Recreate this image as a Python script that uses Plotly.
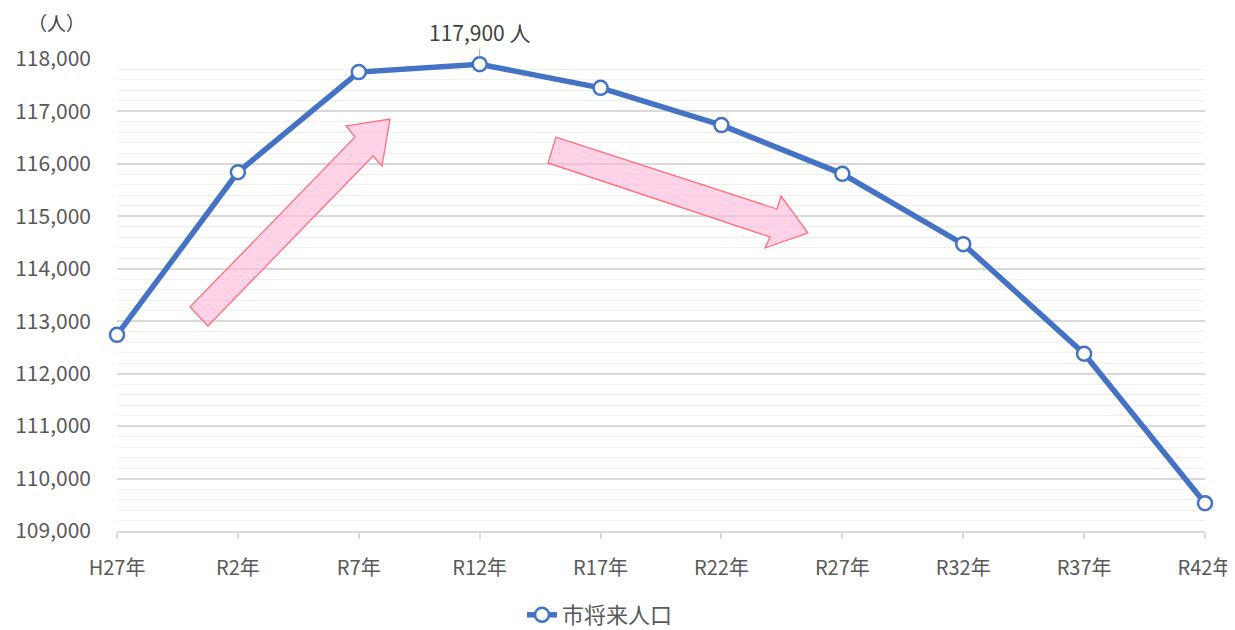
import plotly.graph_objects as go

categories = ["H27年", "R2年", "R7年", "R12年", "R17年", "R22年", "R27年", "R32年", "R37年", "R42年"]
population = [112740, 115840, 117750, 117900, 117450, 116740, 115810, 114470, 112380, 109530]
y_ticks = [109000, 110000, 111000, 112000, 113000, 114000, 115000, 116000, 117000, 118000]
series_name = "市将来人口"
peak_label = "117,900 人"
unit_label = "（人）"

# page has an 8px body margin; figure coordinates = page coordinates - 8
OFF = 8
W, H = 1235 - OFF, 630 - OFF
L, R, T, B = 117 - OFF, 30, 59 - OFF, 99
PW, PH = W - L - R, H - T - B

FONT = "Noto Sans CJK JP, Noto Sans, sans-serif"


def to_paper(pts):
    return [((x - OFF - L) / PW, (H - B - (y - OFF)) / PH) for x, y in pts]


def path(pts):
    pp = to_paper(pts)
    return "M " + " L ".join(f"{x:.4f},{y:.4f}" for x, y in pp) + " Z"


up_arrow = [(190, 307), (355, 137), (346, 126), (390, 119), (382, 166), (373, 156), (208, 326)]
down_arrow = [(556, 137), (777, 209), (781, 196), (808, 233), (765, 248), (770, 237), (548, 163)]

fig = go.Figure()
fig.add_trace(go.Scatter(
    x=categories, y=population, mode="lines+markers", name=series_name,
    line=dict(color="#4472C4", width=5.5),
    marker=dict(symbol="circle", size=14, color="white", line=dict(color="#4472C4", width=2.5)),
    cliponaxis=False,
))

for arr in (up_arrow, down_arrow):
    fig.add_shape(type="path", path=path(arr), xref="paper", yref="paper",
                  fillcolor="rgba(255,182,215,0.6)", line=dict(color="#FF6F7F", width=1.3),
                  layer="above")

fig.add_annotation(x=categories[3], y=population[3], text=peak_label, showarrow=True,
                   arrowhead=0, arrowwidth=1, arrowcolor="#a6a6a6", ax=0, ay=-32, standoff=7,
                   font=dict(family=FONT, size=21, color="#404040"))
ux, uy = to_paper([(56, 22)])[0]
fig.add_annotation(x=ux, y=uy, xref="paper", yref="paper", xanchor="center", yanchor="middle",
                   text=unit_label, showarrow=False,
                   font=dict(family=FONT, size=19, color="#404040"))

lx, ly = to_paper([(600, 615)])[0]
fig.update_layout(
    width=W, height=H, margin=dict(l=L, r=R, t=T, b=B, autoexpand=False),
    paper_bgcolor="white", plot_bgcolor="white",
    font=dict(family=FONT, size=18, color="#595959"),
    showlegend=True,
    legend=dict(orientation="h", x=lx, xanchor="center",
                y=ly, yanchor="middle",
                font=dict(family=FONT, size=22, color="#595959")),
    xaxis=dict(type="category", range=[0, len(categories) - 1], showgrid=False,
               automargin=False,
               showline=True, linecolor="#d9d9d9", linewidth=1.5,
               ticks="outside", ticklen=6, tickcolor="#d9d9d9", tickwidth=1.5,
               tickfont=dict(size=20, color="#595959"), ticklabelstandoff=12),
    yaxis=dict(range=[109000, 118000], tickvals=y_ticks, tickformat=",",
               automargin=False,
               showgrid=True, gridcolor="#d9d9d9", gridwidth=1.5,
               zeroline=False, showline=False,
               minor=dict(dtick=200, showgrid=True, gridcolor="#efefef", gridwidth=1.2),
               tickfont=dict(size=21, color="#595959"), ticklabelstandoff=25),
)

fig.write_html("out.html")
